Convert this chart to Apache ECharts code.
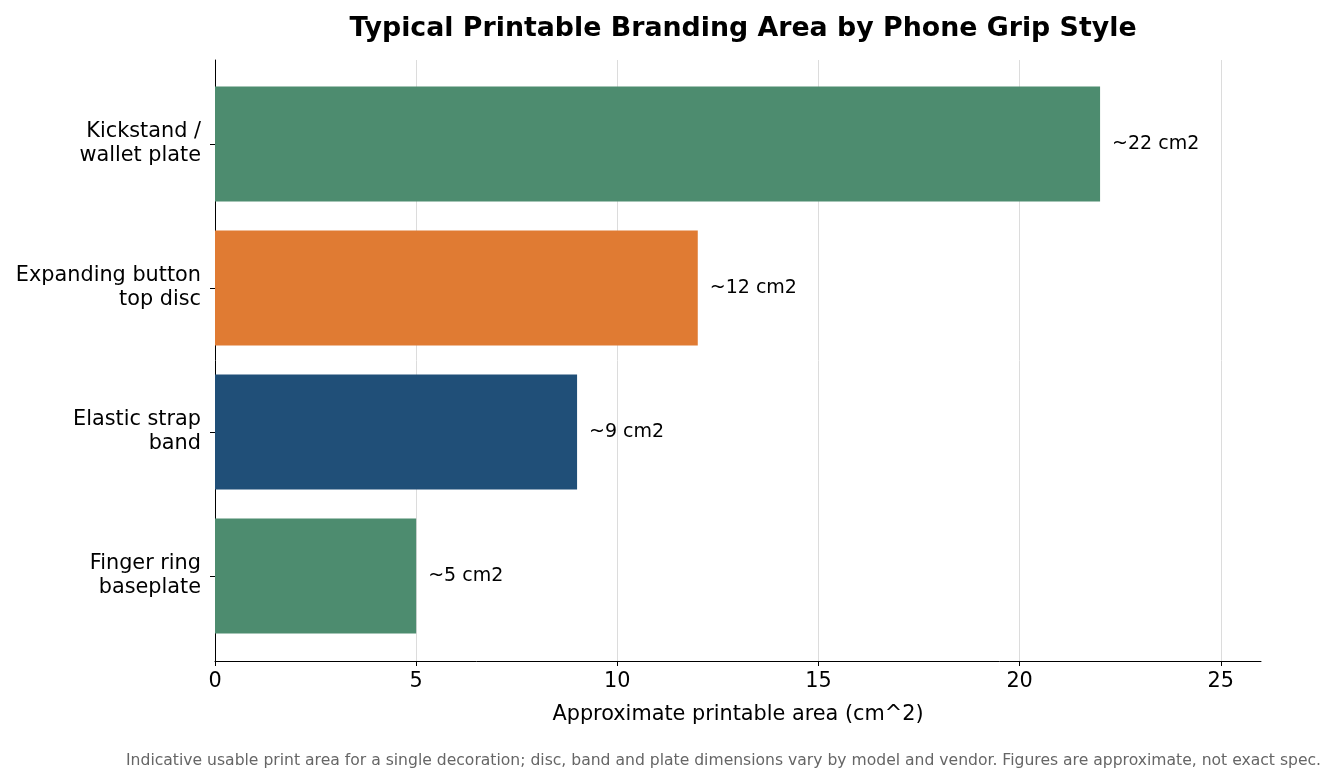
<!DOCTYPE html>
<html lang="en">
<head>
<meta charset="UTF-8">
<title>Phone Grip Branding Area</title>
<script src="https://cdn.jsdelivr.net/npm/echarts@6/dist/echarts.min.js"></script>
<style>
html,body{margin:0;padding:0;background:#fff;}
#chart{width:1336px;height:780px;}
</style>
</head>
<body>
<div id="chart"></div>
<script>
// bottom to top (ECharts category axis starts at the bottom)
var categories = ['Finger ring\nbaseplate', 'Elastic strap\nband', 'Expanding button\ntop disc', 'Kickstand /\nwallet plate'];
var areas = [5, 9, 12, 22];
var labels = ['~5 cm2', '~9 cm2', '~12 cm2', '~22 cm2'];
var colors = ['#4d8c6f', '#204f78', '#e07b33', '#4d8c6f'];

var chart = echarts.init(document.getElementById('chart'), null, {renderer: 'canvas'});
var font = 'DejaVu Sans';
chart.setOption({
    animation: false,
    title: [{
        text: 'Typical Printable Branding Area by Phone Grip Style',
        left: 738, top: 11, textAlign: 'center',
        textStyle: {fontSize: 26.8, fontWeight: 'bold', color: '#000', fontFamily: font}
    }, {
        text: 'Indicative usable print area for a single decoration; disc, band and plate dimensions vary by model and vendor. Figures are approximate, not exact spec.',
        left: 121, top: 748,
        textStyle: {fontSize: 15.6, fontWeight: 'normal', color: '#666', fontFamily: font}
    }],
    grid: [
        {left: 215, right: 75, top: 60, bottom: 119},
        {left: 215, right: 75, top: 72, bottom: 132}
    ],
    xAxis: [{
        gridIndex: 0, type: 'value', min: 0, max: 26, interval: 5,
        name: 'Approximate printable area (cm^2)',
        nameLocation: 'middle', nameGap: 43,
        nameTextStyle: {fontSize: 20.8, color: '#000', fontFamily: font},
        axisLine: {show: true, lineStyle: {color: '#000'}},
        axisTick: {show: true, length: 5, lineStyle: {color: '#000'}},
        axisLabel: {fontSize: 20.8, color: '#000', margin: 10, fontFamily: font, showMaxLabel: false},
        splitLine: {show: true, showMaxLine: false, lineStyle: {color: '#dcdcdc'}}
    }, {
        gridIndex: 1, type: 'value', min: 0, max: 26, show: false
    }],
    yAxis: [{
        gridIndex: 0, type: 'value', min: 0, max: 1,
        axisLine: {show: true, lineStyle: {color: '#000'}},
        axisTick: {show: false}, axisLabel: {show: false}, splitLine: {show: false}
    }, {
        gridIndex: 1, type: 'category', data: categories,
        axisLine: {show: false},
        axisTick: {show: true, alignWithLabel: true, length: 5, lineStyle: {color: '#000'}},
        axisLabel: {fontSize: 20.8, color: '#000', lineHeight: 24, margin: 14, align: 'right', fontFamily: font}
    }],
    series: [{
        type: 'bar', xAxisIndex: 1, yAxisIndex: 1,
        barWidth: 115,
        data: areas.map(function (v, i) {
            return {value: v, itemStyle: {color: colors[i]}};
        }),
        label: {
            show: true, position: 'right', distance: 12,
            fontSize: 19, color: '#000', fontFamily: font,
            formatter: function (p) { return labels[p.dataIndex]; }
        }
    }]
});
</script>
</body>
</html>
